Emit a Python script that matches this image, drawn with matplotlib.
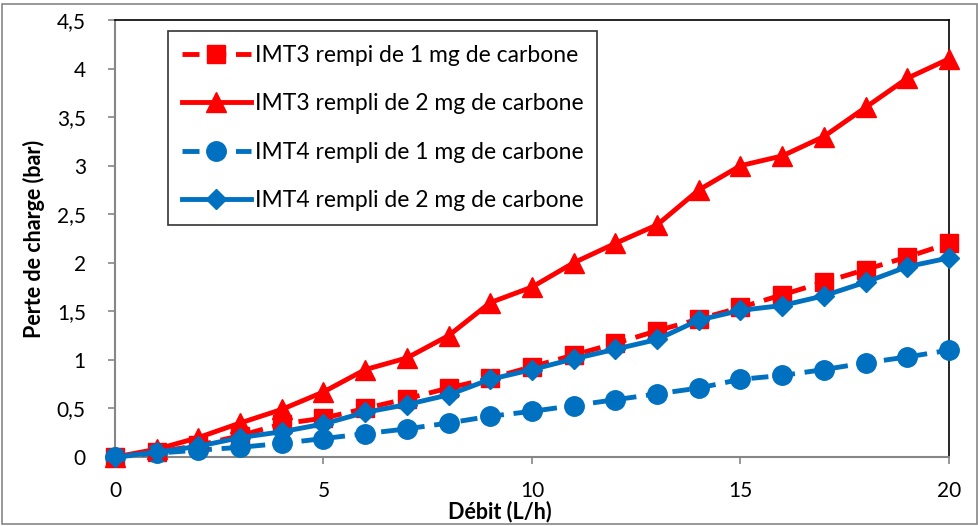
import matplotlib
matplotlib.use("Agg")
import matplotlib.pyplot as plt
from matplotlib.patches import Rectangle

debit = list(range(0, 21))
imt3_1mg = [0, 0.05, 0.12, 0.22, 0.34, 0.40, 0.50, 0.60, 0.71, 0.81, 0.93,
            1.05, 1.17, 1.30, 1.42, 1.54, 1.67, 1.80, 1.93, 2.06, 2.20]
imt3_2mg = [0, 0.08, 0.20, 0.35, 0.49, 0.67, 0.90, 1.02, 1.25, 1.59, 1.75,
            2.00, 2.20, 2.39, 2.75, 3.00, 3.10, 3.30, 3.60, 3.90, 4.10]
imt4_1mg = [0, 0.04, 0.07, 0.10, 0.14, 0.19, 0.24, 0.29, 0.35, 0.42, 0.47,
            0.53, 0.59, 0.65, 0.71, 0.80, 0.84, 0.90, 0.97, 1.03, 1.10]
imt4_2mg = [0, 0.05, 0.11, 0.20, 0.26, 0.34, 0.46, 0.54, 0.64, 0.80, 0.90,
            1.01, 1.11, 1.21, 1.41, 1.51, 1.56, 1.66, 1.80, 1.96, 2.05]
labels = ["IMT3 rempi de 1 mg de carbone", "IMT3 rempli de 2 mg de carbone",
          "IMT4 rempli de 1 mg de carbone", "IMT4 rempli de 2 mg de carbone"]
yticks = [0, 0.5, 1, 1.5, 2, 2.5, 3, 3.5, 4, 4.5]
ytick_labels = ["0", "0,5", "1", "1,5", "2", "2,5", "3", "3,5", "4", "4,5"]
xticks = [0, 5, 10, 15, 20]

plt.rcParams['font.family'] = ['Lato', 'DejaVu Sans']
red = '#FF0000'
blue = '#0070C0'

fig = plt.figure(figsize=(9.79, 5.26), dpi=100)
ax = fig.add_axes([115/979, 69/526, (949-115)/979, (457-20)/526])

ax.plot(debit, imt3_1mg, color=red, lw=3.5, ls=(0, (3.5, 2)), marker='s', ms=13,
        label=labels[0], zorder=3)
ax.plot(debit, imt3_2mg, color=red, lw=3.5, ls='-', marker='^', ms=14,
        label=labels[1], zorder=4)
ax.plot(debit, imt4_1mg, color=blue, lw=3.5, ls=(0, (3.5, 2)), marker='o', ms=14,
        label=labels[2], zorder=3)
ax.plot(debit, imt4_2mg, color=blue, lw=3.5, ls='-', marker='D', ms=10,
        label=labels[3], zorder=5)

ax.set_xlim(0, 20)
ax.set_ylim(0, 4.5)
ax.set_xticks(xticks)
ax.set_xticklabels([str(t) for t in xticks])
ax.set_yticks(yticks)
ax.set_yticklabels(ytick_labels)
ax.tick_params(axis='both', direction='out', length=5, width=1.2, color='#868686',
               labelsize=15)
ax.tick_params(axis='x', pad=12)
ax.tick_params(axis='y', pad=16)
for s in ['left', 'bottom']:
    ax.spines[s].set_color('#868686')
    ax.spines[s].set_linewidth(1.5)
for s in ['top', 'right']:
    ax.spines[s].set_color('black')
    ax.spines[s].set_linewidth(1.2)
for m in ax.lines:
    m.set_clip_on(False)

ax.set_xlabel('Débit (L/h)', fontsize=15.5, fontweight='bold')
ax.xaxis.set_label_coords((500-115)/834, -(512-457)/437, transform=ax.transAxes)
ax.xaxis.label.set_va('center')
ax.set_ylabel('Perte de charge (bar)', fontsize=15.5, fontweight='bold')
ax.yaxis.set_label_coords(-(115-34)/834, 0.5, transform=ax.transAxes)
ax.yaxis.label.set_va('center')

leg = ax.legend(loc='upper left', bbox_to_anchor=(168/979, 1 - 31/526),
                bbox_transform=fig.transFigure, fontsize=16.5, frameon=True,
                fancybox=False, edgecolor='black', borderaxespad=0,
                handlelength=3.0, labelspacing=1.2, borderpad=0.6,
                handletextpad=0.2)
leg.get_frame().set_linewidth(1.2)

fig.patches.append(Rectangle((2/979, 2/526), 1 - 4/979, 1 - 6/526,
                             transform=fig.transFigure, fill=False,
                             edgecolor='#868686', lw=1.2))

fig.savefig('out.png', dpi=100)
